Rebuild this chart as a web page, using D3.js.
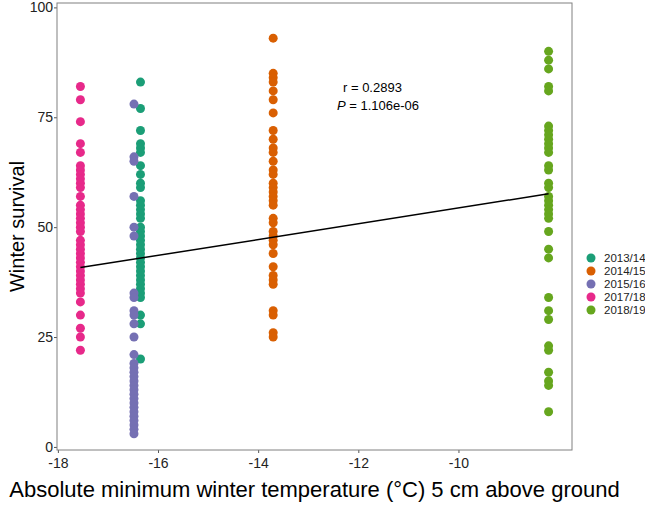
<!DOCTYPE html>
<html>
<head>
<meta charset="utf-8">
<script src="https://cdn.jsdelivr.net/npm/d3@7"></script>
<style>
  body { margin: 0; background: #fff; }
  text { font-family: "Liberation Sans", Arial, sans-serif; }
</style>
</head>
<body>
<div id="chart"></div>
<script>
// Scatter of winter survival vs minimum temperature

// Data
var years = ["2013/14", "2014/15", "2015/16", "2017/18", "2018/19"];
var yearColors = ["#1B9E77", "#D95F02", "#7570B3", "#E7298A", "#66A61E"];
var yearTemps = [-16.35, -13.7, -16.48, -17.55, -8.2];

var survival1314 = [83, 77, 72, 69, 68, 67, 64, 62, 60, 59, 56, 55, 54, 53, 52, 50, 49, 48, 47, 46, 45, 44, 43, 42, 41, 40, 39, 38, 37, 36, 35, 34, 30, 28, 20];
var survival1415 = [93, 85, 84, 83, 81, 79, 76, 72, 70, 68, 67, 65, 63, 62, 60, 59, 58, 57, 56, 55, 52, 51, 49, 48, 47, 46, 44, 41, 39, 38, 37, 31, 30, 26, 25];
var survival1516 = [78, 66, 65, 57, 50, 48, 35, 34, 31, 30, 28, 25, 21, 19, 18, 17, 16, 15, 14, 13, 12, 11, 10, 9, 8, 7, 6, 5, 4, 3];
var survival1718 = [82, 79, 74, 69, 67, 64, 63, 62, 61, 60, 59, 57, 55, 54, 53, 52, 51, 50, 49, 47, 46, 45, 44, 43, 42, 41, 40, 39, 38, 37, 36, 35, 33, 30, 27, 25, 22];
var survival1819 = [90, 88, 86, 82, 81, 73, 72, 71, 70, 69, 68, 67, 64, 63, 60, 59, 57, 56, 55, 54, 53, 52, 49, 45, 43, 34, 31, 29, 23, 22, 17, 15, 14, 8];
var survivalByYear = [survival1314, survival1415, survival1516, survival1718, survival1819];

var xTicks = [-18, -16, -14, -12, -10];
var yTicks = [0, 25, 50, 75, 100];

// fitted line and stats
var fitIntercept = 72.34;
var fitSlope = 1.797;
var rText = "r =  0.2893";
var pText = "1.106e-06";

// Size and margins
var width = 645;
var height = 505;
var margin = { top: 3, left: 57, right: 73, bottom: 55 };
var plotW = width - margin.left - margin.right;
var plotH = height - margin.top - margin.bottom;

var svg = d3.select("#chart")
  .append("svg")
  .attr("width", width)
  .attr("height", height)
  .append("g")
  .attr("transform", "translate(" + margin.left + "," + margin.top + ")");

// flatten points
var points = [];
survivalByYear.forEach(function(arr, i) {
  arr.forEach(function(v) {
    points.push({ year: i, x: yearTemps[i], y: v });
  });
});

var xMin = d3.min(yearTemps), xMax = d3.max(yearTemps);
var pad = (xMax - xMin) * 0.05;

var x_scale = d3.scaleLinear()
  .domain([xMin - pad, xMax + pad])
  .range([0, plotW]);

var y_scale = d3.scaleLinear()
  .domain([-0.7, 101])
  .range([plotH, 0]);

// axes
var xAxis = svg.append("g")
  .attr("transform", "translate(0," + plotH + ")")
  .call(d3.axisBottom(x_scale).tickValues(xTicks).tickSize(3).tickPadding(5).tickFormat(function(d) { return d; }));

var yAxis = svg.append("g")
  .call(d3.axisLeft(y_scale).tickValues(yTicks).tickSize(3).tickPadding(1));

[xAxis, yAxis].forEach(function(a) {
  a.select(".domain").remove();
  a.selectAll(".tick line").attr("stroke", "#555");
  a.selectAll(".tick text")
    .attr("fill", "#222")
    .style("font-size", "14px")
    .style("font-family", "'Liberation Sans', Arial, sans-serif");
});

// points
svg.append("g")
  .selectAll("circle")
  .data(points)
  .enter()
  .append("circle")
  .attr("cx", function(d) { return x_scale(d.x); })
  .attr("cy", function(d) { return y_scale(d.y); })
  .attr("r", 4.5)
  .attr("fill", function(d) { return yearColors[d.year]; });

// regression line
svg.append("line")
  .attr("x1", x_scale(xMin))
  .attr("y1", y_scale(fitIntercept + fitSlope * xMin))
  .attr("x2", x_scale(xMax))
  .attr("y2", y_scale(fitIntercept + fitSlope * xMax))
  .attr("stroke", "#000")
  .attr("stroke-width", 1.5);

// panel border
svg.append("rect")
  .attr("width", plotW)
  .attr("height", plotH)
  .attr("fill", "none")
  .attr("stroke", "#808080")
  .attr("stroke-width", 1);

// annotation
svg.append("text")
  .attr("x", 286)
  .attr("y", 89)
  .style("font-size", "13px")
  .text(rText);

var pLabel = svg.append("text")
  .attr("x", 280)
  .attr("y", 107)
  .style("font-size", "13px");
pLabel.append("tspan").style("font-style", "italic").text("P");
pLabel.append("tspan").text(" =  " + pText);

// axis titles
svg.append("text")
  .attr("transform", "rotate(-90)")
  .attr("x", -plotH / 2)
  .attr("y", -margin.left + 24)
  .style("text-anchor", "middle")
  .style("font-size", "20px")
  .text("Winter survival");

svg.append("text")
  .attr("x", plotW / 2)
  .attr("y", plotH + 47)
  .style("text-anchor", "middle")
  .style("font-size", "22px")
  .text("Absolute minimum winter temperature (\u00B0C) 5 cm above ground");

// legend
var legend = svg.append("g")
  .attr("transform", "translate(" + (plotW + 19) + "," + 255 + ")");

var items = legend.selectAll("g")
  .data(years)
  .enter()
  .append("g")
  .attr("transform", function(d, i) { return "translate(0," + (i * 13) + ")"; });

items.append("circle")
  .attr("r", 4.5)
  .attr("fill", function(d, i) { return yearColors[i]; });

items.append("text")
  .attr("x", 13)
  .attr("dy", "0.35em")
  .style("font-size", "11.5px")
  .attr("fill", "#222")
  .text(function(d) { return d; });
</script>
</body>
</html>
